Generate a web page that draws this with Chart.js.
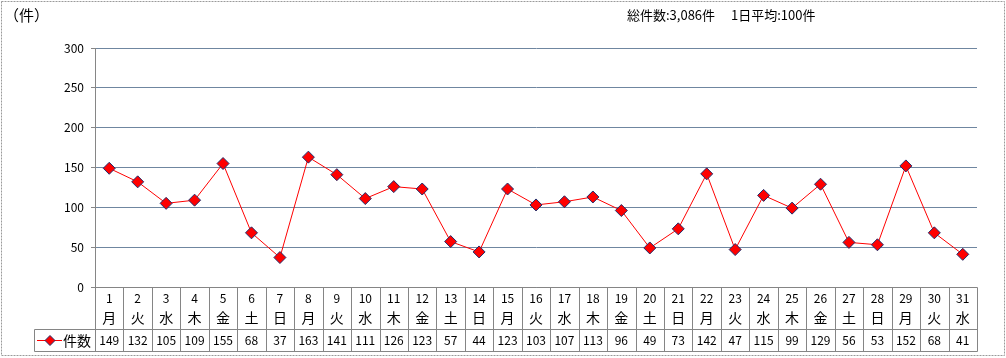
<!DOCTYPE html>
<html><head><meta charset="utf-8">
<script src="https://cdn.jsdelivr.net/npm/chart.js@4/dist/chart.umd.min.js"></script>
<style>html,body{margin:0;padding:0;background:#fff}#wrap{width:1006px;height:358px;position:relative}</style>
</head><body><div id="wrap"><canvas id="c" width="1006" height="358"></canvas></div>
<script>
const days = ["1","2","3","4","5","6","7","8","9","10","11","12","13","14","15","16","17","18","19","20","21","22","23","24","25","26","27","28","29","30","31"];
const weekdays = ["月","火","水","木","金","土","日","月","火","水","木","金","土","日","月","火","水","木","金","土","日","月","火","水","木","金","土","日","月","火","水"];
const counts = [149,132,105,109,155,68,37,163,141,111,126,123,57,44,123,103,107,113,96,49,73,142,47,115,99,129,56,53,152,68,41];
const yTicks = [0,50,100,150,200,250,300];
const seriesName = "件数";
const unitLabel = "（件）";
const summaryText = "総件数:3,086件　 1日平均:100件";

const FONT = "'Noto Sans CJK JP', 'Noto Sans', sans-serif";
const GRID = "#6f86a0";
const AXIS = "#868686";
const TBL = "#858585";

const tablePlugin = {
  id: 'tablePlugin',
  afterDraw(chart) {
    const ctx = chart.ctx;
    const xs = chart.scales.x, ys = chart.scales.y;
    const top = ys.bottom;
    const row1B = top + 42, row2B = row1B + 22;
    const half = (xs.getPixelForValue(1) - xs.getPixelForValue(0)) / 2;
    const left = xs.getPixelForValue(0) - half;
    const right = xs.getPixelForValue(days.length - 1) + half;
    const legL = 34;
    ctx.save();
    ctx.strokeStyle = TBL; ctx.lineWidth = 1;
    ctx.beginPath();
    ctx.moveTo(Math.round(left)+0.5, Math.round(top)+0.5); ctx.lineTo(Math.round(right)+0.5, Math.round(top)+0.5);
    ctx.moveTo(legL+0.5, Math.round(row1B)+0.5); ctx.lineTo(Math.round(right)+0.5, Math.round(row1B)+0.5);
    ctx.moveTo(legL+0.5, Math.round(row2B)+0.5); ctx.lineTo(Math.round(right)+0.5, Math.round(row2B)+0.5);
    ctx.moveTo(legL+0.5, Math.round(row1B)+0.5); ctx.lineTo(legL+0.5, Math.round(row2B)+0.5);
    for (let i = 0; i <= days.length; i++) {
      const x = Math.round(xs.getPixelForValue(i) - half) + 0.5;
      ctx.moveTo(x, Math.round(top)+0.5); ctx.lineTo(x, Math.round(row2B)+0.5);
    }
    ctx.stroke();
    ctx.fillStyle = '#000';
    ctx.textAlign = 'center'; ctx.textBaseline = 'middle';
    for (let i = 0; i < days.length; i++) {
      const cx = xs.getPixelForValue(i);
      ctx.font = "12px " + FONT;
      ctx.fillText(days[i], cx, top + 11);
      ctx.font = "14px " + FONT;
      ctx.fillText(weekdays[i], cx, top + 31);
      ctx.font = "12px " + FONT;
      ctx.fillText(String(counts[i]), cx, row1B + 11.5);
    }
    const ly = row1B + 11.5;
    ctx.strokeStyle = '#ff0000'; ctx.lineWidth = 1;
    ctx.beginPath(); ctx.moveTo(37, ly); ctx.lineTo(62, ly); ctx.stroke();
    ctx.fillStyle = '#ff0000'; ctx.strokeStyle = '#1f2d6b';
    ctx.beginPath(); ctx.moveTo(50, ly-5); ctx.lineTo(55, ly); ctx.lineTo(50, ly+5); ctx.lineTo(45, ly); ctx.closePath();
    ctx.fill(); ctx.stroke();
    ctx.fillStyle = '#000'; ctx.font = "14px " + FONT; ctx.textAlign = 'left';
    ctx.fillText(seriesName, 63, ly);
    ctx.font = "15px " + FONT; ctx.textAlign = 'left';
    ctx.fillText(unitLabel, 4, 15);
    ctx.font = "13px " + FONT;
    ctx.fillText(summaryText, 627, 15);
    ctx.strokeStyle = '#9a9a9a'; ctx.setLineDash([2,1]);
    ctx.strokeRect(1.5, 1.5, 1003, 354);
    ctx.restore();
  }
};

new Chart(document.getElementById('c'), {
  type: 'line',
  data: {
    labels: days,
    datasets: [{
      label: seriesName,
      data: counts,
      borderColor: '#ff0000',
      borderWidth: 1,
      backgroundColor: '#ff0000',
      pointStyle: 'rectRot',
      pointRadius: 6,
      pointHoverRadius: 6,
      pointBackgroundColor: '#ff0000',
      pointBorderColor: '#1f2d6b',
      pointBorderWidth: 1,
      tension: 0
    }]
  },
  options: {
    responsive: false,
    animation: false,
    devicePixelRatio: 1,
    layout: { padding: { top: 48, right: 29, bottom: 0, left: 0 } },
    plugins: { legend: { display: false }, tooltip: { enabled: false } },
    scales: {
      x: {
        type: 'category',
        offset: true,
        grid: { display: false },
        border: { display: false },
        ticks: { display: false },
        afterFit(s) { s.height = 71; }
      },
      y: {
        min: 0, max: 300,
        afterBuildTicks(s) { s.ticks = yTicks.map(v => ({ value: v })); },
        grid: { color: GRID, tickColor: AXIS, tickLength: 4, drawTicks: true },
        border: { display: true, color: AXIS },
        ticks: { color: '#000', padding: 7, font: { family: FONT, size: 12 } },
        afterFit(s) { s.width = 95; }
      }
    }
  },
  plugins: [tablePlugin]
});
</script></body></html>
